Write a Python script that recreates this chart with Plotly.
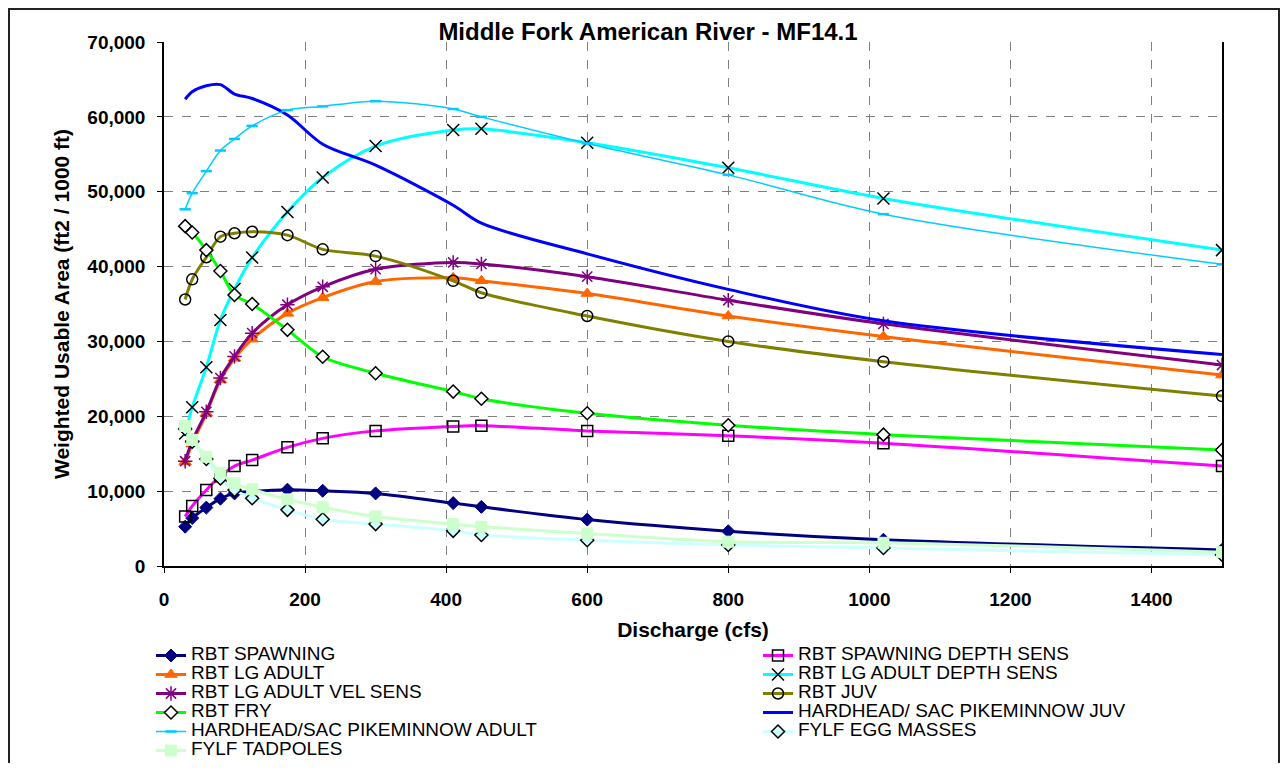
import plotly.graph_objects as go

discharge = [30, 40, 60, 80, 100, 125, 175, 225, 300, 410, 450, 600, 800, 1020, 1500]

rbt_spawning = [5250, 6400, 7800, 9000, 9700, 9950, 10200, 10050, 9700, 8400, 7900, 6200, 4650, 3500, 2150]
rbt_spawning_depth = [6600, 8000, 10150, 12000, 13350, 14150, 15850, 17050, 18050, 18650, 18750, 18050, 17400, 16400, 13350]
rbt_lg_adult = [13900, 16300, 20400, 24850, 27750, 30300, 33750, 35850, 38000, 38500, 38100, 36400, 33400, 30650, 25500]
rbt_lg_adult_depth = [17700, 21200, 26550, 32850, 37000, 41200, 47300, 51900, 56100, 58250, 58400, 56550, 53200, 49100, 42200]
rbt_lg_adult_vel = [14000, 16700, 20600, 25100, 28000, 31100, 34900, 37300, 39650, 40550, 40350, 38650, 35500, 32350, 26850]
rbt_juv = [35600, 38300, 41250, 44000, 44450, 44650, 44200, 42300, 41400, 38100, 36500, 33400, 30000, 27300, 22700]
rbt_fry = [45400, 44550, 42200, 39400, 36200, 35000, 31550, 27950, 25750, 23300, 22350, 20400, 18800, 17550, 15500]
hh_juv = [62350, 63350, 64150, 64300, 63050, 62450, 60250, 56350, 53550, 48200, 45800, 41700, 36950, 32750, 28250]
hh_adult = [47650, 49800, 52750, 55500, 57050, 58800, 60900, 61400, 62100, 61050, 60000, 56450, 52250, 47000, 40300]
fylf_egg = [18300, 16600, 14300, 11700, 10150, 9050, 7500, 6250, 5600, 4700, 4150, 3450, 2800, 2400, 1500]
fylf_tadpoles = [18700, 16850, 14600, 12450, 11050, 10250, 8900, 7850, 6600, 5600, 5250, 4350, 3250, 3100, 1850]

x_ticks = [0, 200, 400, 600, 800, 1000, 1200, 1400]
y_ticks = [0, 10000, 20000, 30000, 40000, 50000, 60000, 70000]

FONT = "Arial, Liberation Sans, sans-serif"
LEG_SIZE = 19

# the page body has an 8px margin: lay the figure out so that it fits the window without scrolling
W, H = 1272, 755
PL, PR, PT, PB = 156, 1214, 34, 558  # plot area in figure pixels

fig = go.Figure()


def lbl(name):
    return f'<span style="font-size:{LEG_SIZE}px">{name}</span>'


def add(name, y, color, width, symbol, msize, mcolor, mline_color, mline_width, legend):
    fig.add_trace(go.Scatter(
        x=discharge, y=y, name=lbl(name), mode="lines+markers",
        line=dict(color=color, width=width, shape="spline", smoothing=0.9),
        marker=dict(symbol=symbol, size=msize, color=mcolor,
                    line=dict(color=mline_color, width=mline_width)),
        legend=legend,
    ))


add("RBT SPAWNING", rbt_spawning, "#000080", 3, "diamond", 10, "#000080", "#000080", 1, "legend")
add("RBT SPAWNING DEPTH SENS", rbt_spawning_depth, "#FF00FF", 3, "square-open", 11, "black", "black", 1.5, "legend2")
add("RBT LG ADULT", rbt_lg_adult, "#FF6600", 3, "triangle-up", 11, "#FF6600", "#FF6600", 1, "legend")
add("RBT LG ADULT DEPTH SENS", rbt_lg_adult_depth, "#00FFFF", 3, "x-thin-open", 12, "black", "black", 1.5, "legend2")
add("RBT LG ADULT VEL SENS", rbt_lg_adult_vel, "#800080", 3, "asterisk-open", 12, "#800080", "#800080", 1.5, "legend")
add("RBT JUV", rbt_juv, "#808000", 3, "circle-open", 11, "black", "black", 1.5, "legend2")
add("RBT FRY", rbt_fry, "#00FF00", 3, "diamond", 10, "white", "black", 1.5, "legend")
fig.add_trace(go.Scatter(
    x=discharge, y=hh_juv, name=lbl("HARDHEAD/ SAC PIKEMINNOW JUV"), mode="lines",
    line=dict(color="#0000FF", width=3, shape="spline", smoothing=0.9), legend="legend2"))
add("HARDHEAD/SAC PIKEMINNOW ADULT", hh_adult, "#00CCFF", 1.5, "line-ew-open", 8, "#00CCFF", "#00CCFF", 2.5, "legend")
add("FYLF EGG MASSES", fylf_egg, "#CCFFFF", 3, "diamond", 10, "#CCFFFF", "black", 1.5, "legend2")
add("FYLF TADPOLES", fylf_tadpoles, "#CCFFCC", 3, "square", 11, "#CCFFCC", "#CCFFCC", 1, "legend")

legend_common = dict(
    font=dict(family=FONT, size=12, color="black"),
    bgcolor="rgba(0,0,0,0)", borderwidth=0, tracegroupgap=0,
    orientation="v", xanchor="left", yanchor="top",
)


def px_x(p):
    return (p - PL) / (PR - PL)


def px_y(p):
    return (PB - p) / (PB - PT)


fig.update_layout(
    width=W, height=H,
    margin=dict(l=PL, r=W - PR, t=PT, b=H - PB, autoexpand=False),
    paper_bgcolor="white", plot_bgcolor="white",
    font=dict(family=FONT, color="black"),
    title=dict(text="<b>Middle Fork American River - MF14.1</b>",
               font=dict(family=FONT, size=24, color="black"),
               x=640 / W, xanchor="center", xref="container",
               y=1 - 24 / H, yanchor="middle", yref="container"),
    xaxis=dict(
        range=[0, 1500], tickvals=x_ticks, ticktext=[str(v) for v in x_ticks],
        showgrid=True, gridcolor="#808080", griddash="dash", gridwidth=1,
        showline=True, linecolor="black", linewidth=1.5, mirror=False,
        ticks="outside", ticklen=5, tickcolor="black",
        tickfont=dict(family=FONT, size=19, color="black", weight="bold"),
        ticklabelstandoff=10,
        zeroline=False,
        title=dict(text="<b>Discharge (cfs)</b>", font=dict(family=FONT, size=21, color="black"),
                   standoff=14),
    ),
    yaxis=dict(
        range=[0, 70000], tickvals=y_ticks, tickformat=",d",
        showgrid=True, gridcolor="#808080", griddash="dash", gridwidth=1,
        showline=True, linecolor="black", linewidth=1.5, mirror=True,
        ticks="outside", ticklen=5, tickcolor="black",
        tickfont=dict(family=FONT, size=19, color="black", weight="bold"),
        ticklabelstandoff=8,
        zeroline=False,
        title=dict(text="<b>Weighted Usable Area (ft2 / 1000 ft)</b>",
                   font=dict(family=FONT, size=21, color="black"), standoff=12),
    ),
    legend=dict(x=px_x(143), y=px_y(633), **legend_common),
    legend2=dict(x=px_x(750), y=px_y(633), **legend_common),
    showlegend=True,
    shapes=[dict(type="rect", xref="paper", yref="paper",
                 x0=px_x(1), x1=px_x(W - 1),
                 y0=px_y(H + 10), y1=px_y(1),
                 line=dict(color="#222222", width=2), fillcolor="rgba(0,0,0,0)", layer="below")],
)

fig.write_html("out.html")
